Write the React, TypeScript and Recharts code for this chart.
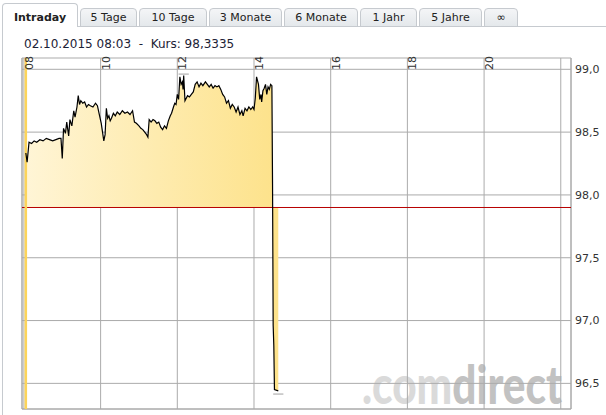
import { Area, CartesianGrid, ComposedChart, Line, ReferenceLine, XAxis, YAxis } from 'recharts'

const times = [
  '08:03', '08:05', '08:08', '08:12', '08:16', '08:20', '08:25', '08:30', '08:35', '08:40', '08:45', '08:50', '08:55', '08:58',
  '09:00', '09:02', '09:05', '09:07', '09:10', '09:12', '09:15', '09:18', '09:20', '09:23', '09:25', '09:27', '09:29', '09:32',
  '09:35', '09:38', '09:41', '09:44', '09:48', '09:52', '09:55', '09:58', '10:01', '10:03', '10:05', '10:07', '10:09', '10:11',
  '10:13', '10:15', '10:17', '10:20', '10:23', '10:26', '10:30', '10:34', '10:38', '10:42', '10:46', '10:50', '10:53', '10:56',
  '11:00', '11:03', '11:06', '11:09', '11:12', '11:14', '11:16', '11:19', '11:22', '11:25', '11:28', '11:31', '11:34', '11:37',
  '11:40', '11:43', '11:46', '11:49', '11:51', '11:54', '11:56', '11:58', '12:00', '12:02', '12:04', '12:06', '12:08', '12:09',
  '12:10', '12:12', '12:14', '12:16', '12:19', '12:22', '12:25', '12:28', '12:31', '12:34', '12:37', '12:40', '12:44', '12:47',
  '12:50', '12:53', '12:56', '12:59', '13:02', '13:05', '13:08', '13:11', '13:14', '13:17', '13:20', '13:23', '13:26', '13:29',
  '13:32', '13:35', '13:38', '13:41', '13:43', '13:46', '13:49', '13:52', '13:55', '13:58', '14:00', '14:02', '14:04', '14:06',
  '14:07', '14:09', '14:11', '14:12', '14:14', '14:16', '14:18', '14:20', '14:22', '14:24', '14:26', '14:28', '14:29', '14:30',
  '14:31', '14:32', '14:38',
]

const prices = [
  98.3335, 98.26, 98.42, 98.41, 98.43, 98.42, 98.44, 98.43, 98.45, 98.44, 98.43, 98.44, 98.45, 98.45,
  98.29, 98.53, 98.49, 98.58, 98.47, 98.6, 98.55, 98.67, 98.62, 98.7, 98.79, 98.72, 98.75, 98.73,
  98.74, 98.7, 98.72, 98.71, 98.7, 98.73, 98.71, 98.64, 98.57, 98.5, 98.43, 98.48, 98.69, 98.61,
  98.63, 98.59, 98.61, 98.65, 98.63, 98.66, 98.64, 98.67, 98.65, 98.66, 98.64, 98.67, 98.58, 98.57,
  98.55, 98.53, 98.52, 98.5, 98.48, 98.46, 98.6, 98.58, 98.6, 98.59, 98.57, 98.58, 98.54, 98.52,
  98.55, 98.53, 98.59, 98.63, 98.65, 98.7, 98.73, 98.72, 98.8, 98.76, 98.94, 98.88, 98.9, 98.84,
  98.95, 98.75, 98.77, 98.79, 98.78, 98.8, 98.82, 98.88, 98.9, 98.86, 98.89, 98.87, 98.9, 98.88,
  98.86, 98.88, 98.85, 98.87, 98.86, 98.87, 98.84, 98.8, 98.78, 98.73, 98.75, 98.69, 98.72, 98.7,
  98.66, 98.7, 98.64, 98.67, 98.63, 98.69, 98.67, 98.7, 98.68, 98.7, 98.68, 98.77, 98.94, 98.9,
  98.88, 98.76, 98.8, 98.74, 98.83, 98.85, 98.88, 98.8, 98.86, 98.84, 98.88, 98.87, 98.09, 96.96,
  96.8, 96.45, 96.44,
]

const prevClose = 97.9
const cursorTime = '08:03'
const hourLabels = ['08', '10', '12', '14', '16', '18', '20', '22']
const priceTicks = [96.5, 97.0, 97.5, 98.0, 98.5, 99.0]
const tabs = ['Intraday', '5 Tage', '10 Tage', '3 Monate', '6 Monate', '1 Jahr', '5 Jahre', '∞']
const header = '02.10.2015 08:03  -  Kurs: 98,3335'

// minutes since 08:00
const toMin = (t: string) => {
  const [h, m] = t.split(':').map(Number)
  return (h - 8) * 60 + m
}

const data = times.map((t, i) => ({ t: toMin(t), price: prices[i] }))
const xTicks = hourLabels.map((h) => (Number(h) - 8) * 60)
const xDomain: [number, number] = [-3, 856]
const yDomain: [number, number] = [96.296, 99.09]

const maxP = Math.max(...prices)
const minP = Math.min(...prices)
const tMax = data[prices.indexOf(maxP)].t
const tMin = data[prices.indexOf(minP)].t

const font = '"DejaVu Sans", Verdana, sans-serif'
const tabWidths = [76, 57, 68, 73, 74, 57, 63, 34]

const renderHourTick = (props: any) => {
  const { x, payload } = props
  const label = hourLabels[xTicks.indexOf(payload.value)]
  if (!label || payload.value >= 840) return <g key={payload.value} />
  return (
    <text
      key={payload.value}
      transform={`translate(${x + 9},56) rotate(-90)`}
      textAnchor="end"
      fontSize={11}
      fill="#333"
      fontFamily={font}
    >
      {label}
    </text>
  )
}

export default function App() {
  return (
    <div style={{ position: 'absolute', left: 0, top: 0, width: 606, height: 415, background: '#fff', overflow: 'hidden', fontFamily: font }}>
      {/* tabs */}
      <div style={{ position: 'absolute', left: 2, top: 0, display: 'flex', gap: 2, alignItems: 'flex-end', height: 27 }}>
        {tabs.map((tab, i) => {
          const active = i === 0
          return (
            <div
              key={tab}
              style={{
                width: tabWidths[i],
                height: active ? 24 : 19,
                boxSizing: 'border-box',
                border: '1px solid #c6cacf',
                borderBottom: active ? 'none' : '1px solid #c6cacf',
                borderRadius: '4px 4px 0 0',
                background: active ? '#fff' : 'linear-gradient(#f4f5f7, #e4e8eb)',
                fontSize: 11,
                fontWeight: active ? 'bold' : 'normal',
                color: '#222',
                textAlign: 'center',
                lineHeight: active ? '24px' : '18px',
                paddingTop: active ? 2 : 0,
              }}
            >
              {tab}
            </div>
          )
        })}
      </div>
      <div style={{ position: 'absolute', left: 78, right: 0, top: 26, height: 1, background: '#c6cacf' }} />
      <div style={{ position: 'absolute', left: 2, top: 26, bottom: 0, width: 1, background: '#c6cacf' }} />

      <div style={{ position: 'absolute', left: 24, top: 37, fontSize: 12, color: '#1c2236', whiteSpace: 'pre' }}>{header}</div>

      <svg style={{ position: 'absolute', left: 0, top: 0 }} width={606} height={415}>
        <text x={362} y={404} fontFamily="Lato, 'Liberation Sans', sans-serif" fontSize={54} fontWeight={900} textLength={200} lengthAdjust="spacingAndGlyphs">
          <tspan fill="#dadada">.com</tspan>
          <tspan fill="#c2c2c2">direct</tspan>
        </text>
      </svg>

      <div style={{ position: 'absolute', left: 0, top: 0 }}>
        <ComposedChart width={606} height={415} data={data} margin={{ top: 57, right: 0, bottom: 6, left: 22 }}>
          <defs>
            <linearGradient id="fillGrad" x1="0" y1="0" x2="1" y2="0">
              <stop offset="0%" stopColor="#fff5d6" />
              <stop offset="100%" stopColor="#fde28a" />
            </linearGradient>
          </defs>
          <CartesianGrid stroke="#ababab" />
          <XAxis
            dataKey="t"
            type="number"
            orientation="top"
            domain={xDomain}
            ticks={xTicks}
            interval={0}
            allowDataOverflow
            height={1}
            axisLine={false}
            tickLine={false}
            tick={renderHourTick}
          />
          <YAxis
            type="number"
            orientation="right"
            domain={yDomain}
            ticks={priceTicks}
            allowDataOverflow
            width={35}
            axisLine={false}
            tickLine={false}
            tickSize={0}
            tickMargin={4}
            tick={{ fontSize: 11, fill: '#333', fontFamily: font }}
            tickFormatter={(v: number) => v.toFixed(1).replace('.', ',')}
          />
          <ReferenceLine x={xDomain[0]} stroke="#a8a8a8" />
          <ReferenceLine x={xDomain[1]} stroke="#a8a8a8" />
          <ReferenceLine y={yDomain[0]} stroke="#a8a8a8" />
          <Area
            type="linear"
            dataKey="price"
            baseValue={prevClose}
            stroke="none"
            fill="url(#fillGrad)"
            fillOpacity={1}
            isAnimationActive={false}
          />
          <ReferenceLine y={prevClose} stroke="#b80000" />
          <ReferenceLine x={toMin(cursorTime)} stroke="#fcd45a" strokeWidth={2.5} />
          <ReferenceLine segment={[{ x: tMax - 8, y: maxP + 0.012 }, { x: tMax + 8, y: maxP + 0.012 }]} stroke="#a0a0a0" />
          <ReferenceLine segment={[{ x: tMin - 8, y: minP - 0.025 }, { x: tMin + 8, y: minP - 0.025 }]} stroke="#a0a0a0" />
          <Line type="linear" dataKey="price" stroke="#000" strokeWidth={1.2} dot={false} isAnimationActive={false} />
        </ComposedChart>
      </div>
    </div>
  )
}
